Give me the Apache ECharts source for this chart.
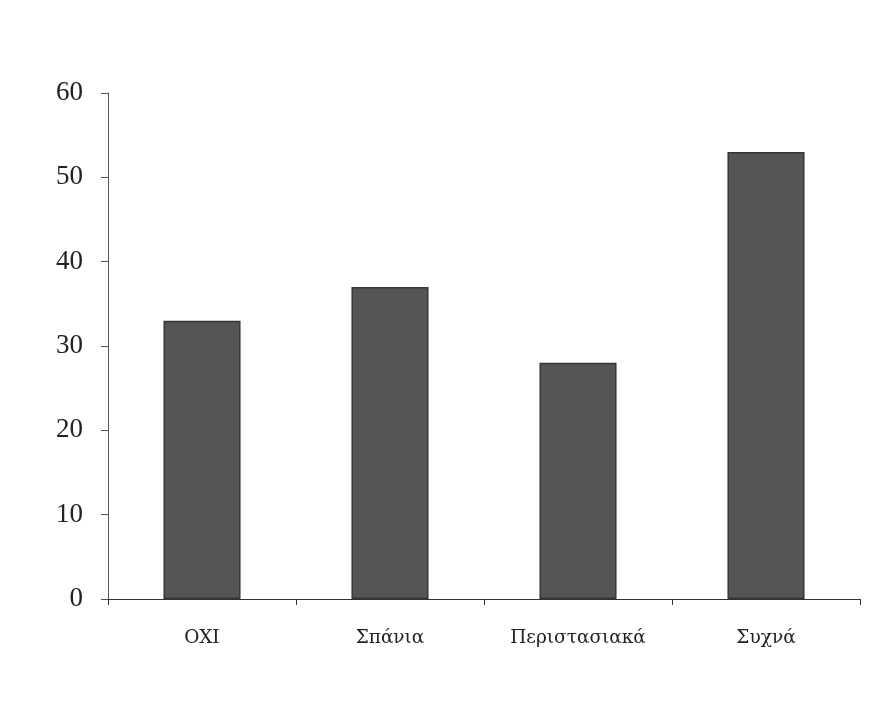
<!DOCTYPE html>
<html>
<head>
<meta charset="utf-8">
<script src="https://cdn.jsdelivr.net/npm/echarts@6/dist/echarts.min.js"></script>
<style>html,body{margin:0;padding:0;background:#fff}#c{width:896px;height:702px}</style>
</head>
<body>
<div id="c"></div>
<script>
const categories = ['OXI', 'Σπάνια', 'Περιστασιακά', 'Συχνά'];
const values = [33, 37, 28, 53];
const yTicks = [0, 10, 20, 30, 40, 50, 60];

const chart = echarts.init(document.getElementById('c'));
chart.setOption({
  animation: false,
  backgroundColor: '#ffffff',
  grid: { left: 108, right: 36, top: 93, bottom: 103 },
  xAxis: {
    type: 'category',
    data: categories,
    axisLine: { lineStyle: { color: '#333', width: 1 } },
    axisTick: { show: true, alignWithLabel: false, length: 6, lineStyle: { color: '#333' } },
    axisLabel: { color: '#222', fontFamily: 'DejaVu Serif, serif', fontSize: 18.5, margin: 30 }
  },
  yAxis: {
    type: 'value',
    min: yTicks[0], max: yTicks[yTicks.length - 1], interval: 10,
    axisLine: { show: true, lineStyle: { color: '#555', width: 1 } },
    axisTick: { show: true, length: 7, lineStyle: { color: '#555' } },
    splitLine: { show: false },
    axisLabel: { color: '#222', fontFamily: 'Liberation Serif, serif', fontSize: 27, margin: 25 }
  },
  series: [{
    type: 'bar',
    data: values,
    barWidth: '41%',
    itemStyle: { color: '#555555', borderColor: '#363636', borderWidth: 1.5 }
  }]
});
</script>
</body>
</html>
